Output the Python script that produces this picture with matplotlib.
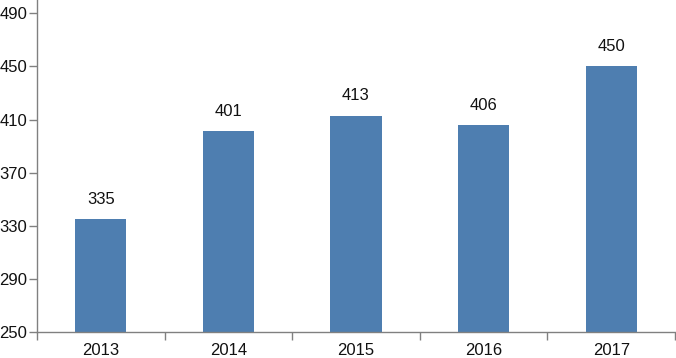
import matplotlib.pyplot as plt
import numpy as np

years = ['2013', '2014', '2015', '2016', '2017']
values = [335, 401, 413, 406, 450]
y_ticks = [250, 290, 330, 370, 410, 450, 490]

plt.rcParams['font.family'] = ['Liberation Sans', 'DejaVu Sans']

fig = plt.figure(figsize=(6.76, 3.58), dpi=100)
ax = fig.add_axes([37 / 676, 26 / 358, 638 / 676, 1 - 26 / 358])

x = np.arange(len(years))
bars = ax.bar(x, values, width=0.4, color='#4E7EB0', bottom=0)

# value labels above bars
for xi, v in zip(x, values):
    ax.annotate(str(v), (xi, v), xytext=(0, 11), textcoords='offset points',
                ha='center', va='baseline', fontsize=12, color='#111111')

ax.set_xlim(-0.5, len(years) - 0.5)
ax.set_ylim(250, 500)
ax.set_yticks(y_ticks)
ax.set_xticks(x)
ax.set_xticklabels(years)
ax.set_xticks(np.arange(len(years) + 1) - 0.5, minor=True)

ax.tick_params(axis='x', which='major', length=0, pad=8, labelsize=12, labelcolor='#111111')
ax.tick_params(axis='x', which='minor', length=6, width=1, color='#808080', direction='out')
ax.tick_params(axis='y', length=6, width=1, color='#808080', labelsize=12, labelcolor='#111111', pad=1)

for side in ['top', 'right']:
    ax.spines[side].set_visible(False)
for side in ['left', 'bottom']:
    ax.spines[side].set_color('#808080')
    ax.spines[side].set_linewidth(1)

fig.savefig('out.png', dpi=100)
